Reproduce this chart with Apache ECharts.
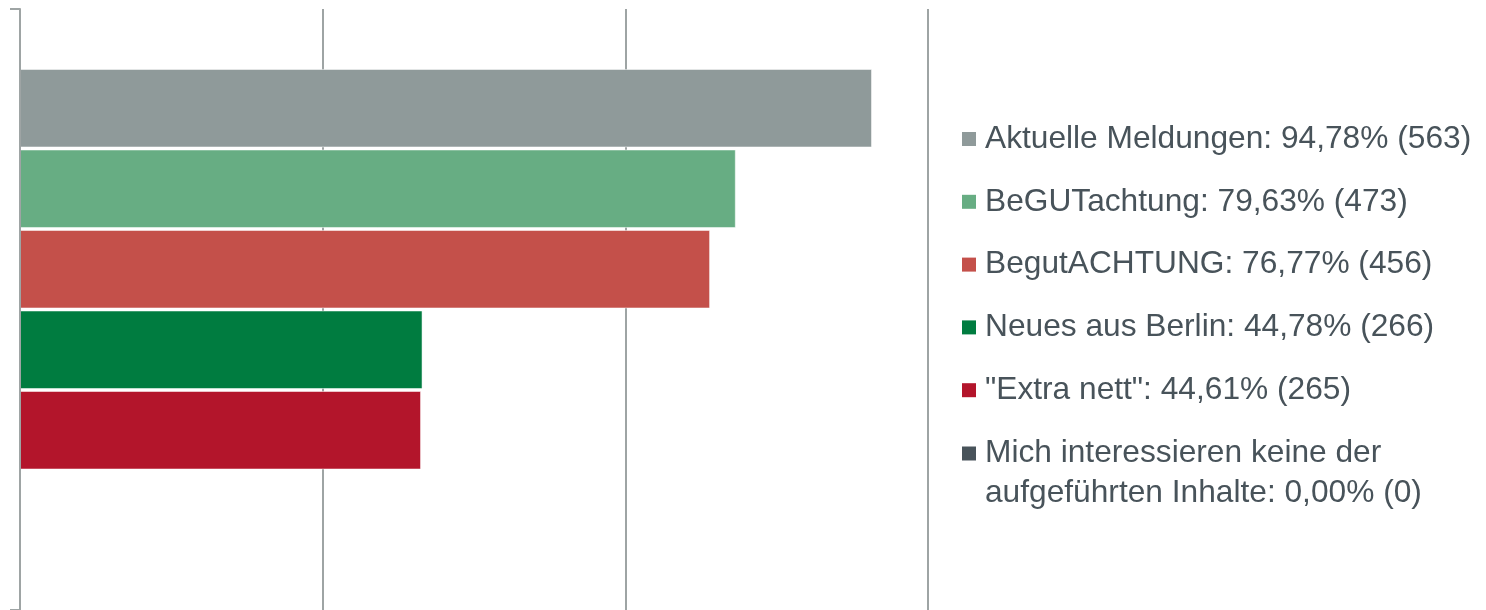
<!DOCTYPE html>
<html>
<head>
<meta charset="utf-8">
<script src="https://cdn.jsdelivr.net/npm/echarts@6/dist/echarts.min.js"></script>
<style>html,body{margin:0;padding:0;background:#fff}#c{width:1486px;height:610px}</style>
</head>
<body>
<div id="c"></div>
<script>
const categories = ['Antworten'];
const seriesNames = ['Aktuelle Meldungen', 'BeGUTachtung', 'BegutACHTUNG', 'Neues aus Berlin', '"Extra nett"', 'Mich interessieren keine der aufgeführten Inhalte'];
const counts = [563, 473, 456, 266, 265, 0];
const percents = ['94,78%', '79,63%', '76,77%', '44,78%', '44,61%', '0,00%'];
const colors = ['#8f9a9a', '#67ad83', '#c4504a', '#007c40', '#b3152b', '#48535a'];
const xTicks = [0, 200, 400, 600];

const chart = echarts.init(document.getElementById('c'));
const series = seriesNames.map((n, i) => ({
  name: n,
  type: 'bar',
  data: [counts[i]],
  barWidth: 78.5,
  barGap: '2.55%',
  itemStyle: { color: colors[i], borderColor: 'rgba(255,255,255,0.5)', borderWidth: 1 },
  emphasis: { disabled: true }
}));
function legendLabel(name) {
  const i = seriesNames.indexOf(name);
  return name + ': ' + percents[i] + ' (' + counts[i] + ')';
}
const legendText = {
  fontFamily: 'Liberation Sans, Arial, sans-serif', fontSize: 31.7, color: '#48535a',
  lineHeight: 40, padding: [0, 0, 0, 4]
};
const legendCommon = {
  orient: 'vertical', left: 962, padding: 0,
  itemWidth: 14, itemHeight: 14,
  icon: 'rect', selectedMode: false,
  itemStyle: { borderWidth: 0 },
  textStyle: legendText
};
chart.setOption({
  animation: false,
  color: colors,
  grid: { left: 20, right: 558, top: 9, bottom: 0, containLabel: false },
  xAxis: {
    type: 'value', min: xTicks[0], max: xTicks[xTicks.length - 1], interval: 200,
    axisLabel: { show: false }, axisLine: { show: false }, axisTick: { show: false },
    splitLine: { show: true, lineStyle: { color: '#9ea4a4', width: 2 } }
  },
  yAxis: {
    type: 'category', data: categories, z: 3,
    axisLabel: { show: false },
    axisLine: { show: true, lineStyle: { color: '#9ea4a4', width: 2 } },
    axisTick: { show: true, length: 10, lineStyle: { color: '#9ea4a4', width: 2 } }
  },
  legend: [
    Object.assign({}, legendCommon, {
      top: 119, itemGap: 22.8,
      data: seriesNames.slice(0, 5),
      formatter: legendLabel
    }),
    Object.assign({}, legendCommon, {
      top: 393.5,
      data: seriesNames.slice(5),
      formatter: function (name) {
        return '\n' + legendLabel(name).replace(' der ', ' der\n');
      }
    })
  ],
  series: series
});
</script>
</body>
</html>
